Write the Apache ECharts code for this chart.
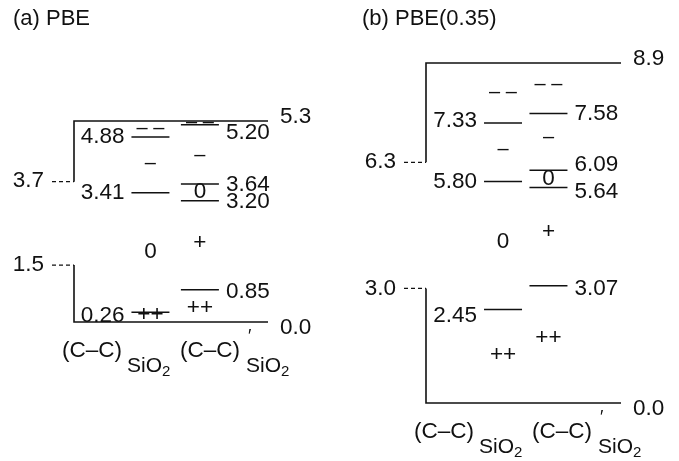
<!DOCTYPE html>
<html>
<head>
<meta charset="utf-8">
<script src="https://cdn.jsdelivr.net/npm/echarts@6/dist/echarts.min.js"></script>
<style>
  html, body { margin: 0; padding: 0; background: #fff; }
  #chart { width: 679px; height: 461px; }
</style>
</head>
<body>
<div id="chart"></div>
<script>
// values (energies in eV)
const panelTitles = ['(a) PBE', '(b) PBE(0.35)']
const columnNames = ['(C–C)', '(C–C)']

// (a) PBE
const edgesA = [5.3, 0.0]          // frame top / bottom
const bracketsA = [3.7, 1.5]       // dashed marks on the left
const leftLevelsA = [4.88, 3.41, 0.26]
const rightLevelsA = [5.20, 3.64, 3.20, 0.85]
const leftMarksA = ['– –', '–', '0', '++']
const leftMarkEA = [5.10, 4.17, 1.85, 0.20]
const rightMarksA = ['– –', '–', '0', '+', '++']
const rightMarkEA = [5.26, 4.40, 3.43, 2.08, 0.37]

// (b) PBE(0.35)
const edgesB = [8.9, 0.0]
const bracketsB = [6.3, 3.0]
const leftLevelsB = [7.33, 5.80, 2.45]
const rightLevelsB = [7.58, 6.09, 5.64, 3.07]
const leftMarksB = ['– –', '–', '0', '++']
const leftMarkEB = [8.12, 6.63, 4.21, 1.25]
const rightMarksB = ['– –', '–', '0', '+', '++']
const rightMarkEB = [8.33, 6.94, 5.87, 4.48, 1.70]

const FONT = '"Liberation Sans", Arial, Helvetica, sans-serif'
const INK = '#111'
const FS = 22.5 // main text size
const HALF = 19 // half length of a level bar, px

// layout of each panel (pixels / axis units), kept apart from the values
const panels = [
  {
    title: panelTitles[0], titleLeft: 13,
    grid: { left: 74, top: 121, width: 194, height: 201 },
    cols: [3.94, 6.49],
    edges: edgesA, brackets: bracketsA,
    left: leftLevelsA, right: rightLevelsA,
    nudgeL: [0, 0, 4], nudgeR: [8, 1, 1, 2],
    marks: [leftMarksA, rightMarksA], markE: [leftMarkEA, rightMarkEA],
  },
  {
    title: panelTitles[1], titleLeft: 362,
    grid: { left: 426, top: 63, width: 195, height: 340 },
    cols: [3.95, 6.28],
    edges: edgesB, brackets: bracketsB,
    left: leftLevelsB, right: rightLevelsB,
    nudgeL: [-2, 0, 6], nudgeR: [0, -6, 4, 3],
    marks: [leftMarksB, rightMarksB], markE: [leftMarkEB, rightMarkEB],
  },
]

function txt(x, y, text, align, size) {
  return {
    type: 'text',
    style: {
      x: x, y: y, text: text, fill: INK,
      font: (size || FS) + 'px ' + FONT,
      align: align || 'left', verticalAlign: 'middle',
    },
  }
}

function ln(x1, y1, x2, y2, w, dash) {
  return {
    type: 'line',
    shape: { x1: x1, y1: y1, x2: x2, y2: y2 },
    style: { stroke: INK, lineWidth: w || 1.4, lineDash: dash || null },
  }
}

const series = []
panels.forEach((p, gi) => {
  // frame, brackets and column names
  series.push({
    type: 'custom',
    xAxisIndex: gi, yAxisIndex: gi,
    silent: true,
    data: [[p.edges[0], p.brackets[0], p.brackets[1], p.edges[1]]],
    renderItem(params, api) {
      const top = api.value(0)
      const bot = api.value(3)
      const tl = api.coord([0, top])
      const tr = api.coord([10, top])
      const bl = api.coord([0, bot])
      const br = api.coord([10, bot])
      const pu = api.coord([0, api.value(1)])
      const pl = api.coord([0, api.value(2)])
      const x0 = tl[0]
      const yb = bl[1]
      const children = [
        { type: 'polyline', shape: { points: [pu, tl, tr] }, style: { stroke: INK, lineWidth: 1.6, fill: null } },
        { type: 'polyline', shape: { points: [pl, bl, br] }, style: { stroke: INK, lineWidth: 1.6, fill: null } },
        ln(x0 - 22, pu[1], x0, pu[1], 1.2, [4, 3]),
        ln(x0 - 22, pl[1], x0, pl[1], 1.2, [4, 3]),
        txt(tr[0] + 12, tr[1] - 4, top.toFixed(1)),
        txt(br[0] + 12, br[1] + 6, bot.toFixed(1)),
        txt(x0 - 30, pu[1] - 1, api.value(1).toFixed(1), 'right'),
        txt(x0 - 30, pl[1], api.value(2).toFixed(1), 'right'),
        // column names with SiO2 subscripts
        txt(x0 - 12, yb + 29, columnNames[0]),
        txt(x0 + 53, yb + 44, 'SiO', 'left', 21),
        txt(x0 + 88, yb + 50, '2', 'left', 15),
        txt(x0 + 106, yb + 29, columnNames[1]),
        txt(x0 + 174, yb + 15, '′', 'left', 18),
        txt(x0 + 172, yb + 44, 'SiO', 'left', 21),
        txt(x0 + 207, yb + 50, '2', 'left', 15),
      ]
      return { type: 'group', children: children }
    },
  })

  // level bars with their values
  const levelData = []
  p.left.forEach((v, i) => levelData.push([p.cols[0], v, 0, p.nudgeL[i]]))
  p.right.forEach((v, i) => levelData.push([p.cols[1], v, 1, p.nudgeR[i]]))
  series.push({
    type: 'custom',
    xAxisIndex: gi, yAxisIndex: gi,
    silent: true,
    data: levelData,
    renderItem(params, api) {
      const c = api.coord([api.value(0), api.value(1)])
      const side = api.value(2)
      const dy = api.value(3)
      const label = api.value(1).toFixed(2)
      return {
        type: 'group',
        children: [
          ln(c[0] - HALF, c[1], c[0] + HALF, c[1], 1.5),
          side === 0
            ? txt(c[0] - HALF - 7, c[1] + dy, label, 'right')
            : txt(c[0] + HALF + 7, c[1] + dy, label, 'left'),
        ],
      }
    },
  })

  // occupation marks (--, -, 0, +, ++)
  const markData = []
  const markText = []
  p.marks.forEach((list, ci) => {
    list.forEach((t, i) => {
      markData.push([p.cols[ci], p.markE[ci][i]])
      markText.push(t)
    })
  })
  series.push({
    type: 'custom',
    xAxisIndex: gi, yAxisIndex: gi,
    silent: true,
    data: markData,
    renderItem(params, api) {
      const c = api.coord([api.value(0), api.value(1)])
      const t = markText[params.dataIndex]
      return txt(c[0], c[1], t, 'center', t.indexOf('–') >= 0 ? 20 : FS)
    },
  })
})

const chart = echarts.init(document.getElementById('chart'))
chart.setOption({
  animation: false,
  backgroundColor: '#fff',
  title: panels.map(p => ({
    text: p.title,
    left: p.titleLeft,
    top: 8,
    padding: 0,
    textStyle: { fontSize: 22, fontWeight: 'normal', color: INK, fontFamily: FONT },
  })),
  grid: panels.map(p => p.grid),
  xAxis: panels.map((p, i) => ({ gridIndex: i, type: 'value', min: 0, max: 10, show: false })),
  yAxis: panels.map((p, i) => ({ gridIndex: i, type: 'value', min: 0, max: p.edges[0], show: false })),
  series: series,
})
</script>
</body>
</html>
